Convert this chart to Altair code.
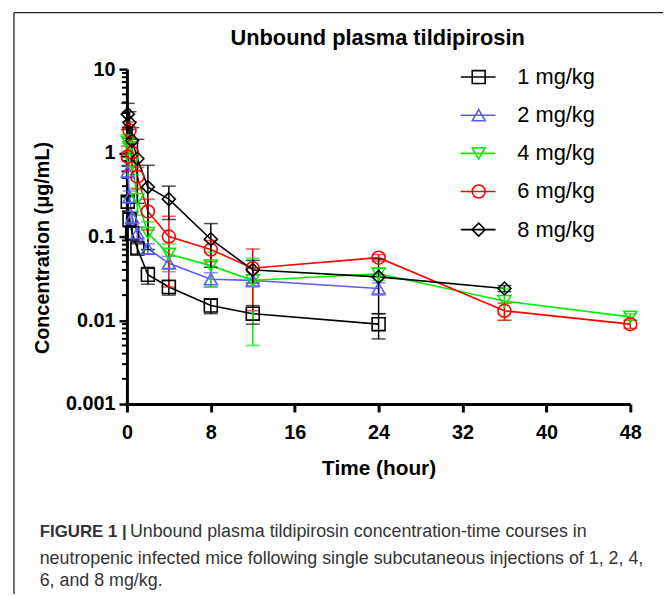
import altair as alt
import pandas as pd

FONT = "Liberation Sans"

series = ["1 mg/kg", "2 mg/kg", "4 mg/kg", "6 mg/kg", "8 mg/kg"]
colors = ["#000000", "#5b5bff", "#00ee00", "#ff0000", "#000000"]
shapes = ["square", "triangle-up", "triangle-down", "circle", "diamond"]

# time (h), mean concentration (ug/mL), SD
t_1 = [0.083, 0.25, 0.5, 1, 2, 4, 8, 12, 24]
c_1 = [0.26, 0.16, 0.11, 0.072, 0.035, 0.025, 0.015, 0.012, 0.009]
sd_1 = [0.04, 0.03, 0.02, 0.01, 0.008, 0.005, 0.003, 0.003, 0.003]

t_2 = [0.083, 0.25, 0.5, 1, 2, 4, 8, 12, 24]
c_2 = [0.60, 0.30, 0.17, 0.11, 0.072, 0.048, 0.031, 0.030, 0.024]
sd_2 = [0.10, 0.05, 0.03, 0.02, 0.01, 0.01, 0.006, 0.005, 0.004]

t_4 = [0.083, 0.25, 0.5, 1, 2, 4, 8, 12, 24, 36, 48]
c_4 = [1.35, 1.15, 0.75, 0.28, 0.11, 0.062, 0.045, 0.030, 0.036, 0.017, 0.011]
sd_4 = [0.3, 0.2, 0.2, 0.1, 0.04, 0.02, 0.02, 0.025, 0.006, 0.007, 0.001]

t_6 = [0.083, 0.25, 0.5, 1, 2, 4, 8, 12, 24, 36, 48]
c_6 = [0.9, 1.85, 1.0, 0.52, 0.20, 0.10, 0.070, 0.042, 0.056, 0.013, 0.009]
sd_6 = [0.3, 0.5, 0.3, 0.15, 0.08, 0.075, 0.02, 0.029, 0.005, 0.003, 0.001]

t_8 = [0.083, 0.25, 0.5, 1, 2, 4, 8, 12, 24, 36]
c_8 = [2.9, 2.3, 1.4, 0.85, 0.39, 0.28, 0.093, 0.040, 0.033, 0.024]
sd_8 = [1.0, 0.8, 0.6, 0.6, 0.32, 0.12, 0.05, 0.012, 0.021, 0.002]

x_ticks = [0, 8, 16, 24, 32, 40, 48]
y_ticks = [0.001, 0.01, 0.1, 1, 10]
y_minor = [m * 10 ** e for e in range(-3, 1) for m in range(2, 10)]

chart_title = "Unbound plasma tildipirosin"
x_title = "Time (hour)"
y_title = "Concentration (μg/mL)"
cap_bold = "FIGURE 1 |"
cap_lines = [
    "Unbound plasma tildipirosin concentration-time courses in",
    "neutropenic infected mice following single subcutaneous injections of 1, 2, 4,",
    "6, and 8 mg/kg.",
]

rows = []
for name, ts, cs, ss in zip(series, [t_1, t_2, t_4, t_6, t_8],
                            [c_1, c_2, c_4, c_6, c_8],
                            [sd_1, sd_2, sd_4, sd_6, sd_8]):
    for t, c, s in zip(ts, cs, ss):
        rows.append({"series": name, "time": t, "conc": c,
                     "low": c - s, "high": c + s})
df = pd.DataFrame(rows)

W, H = 508, 338

y_axis = alt.Axis(values=y_ticks, format="~g", title=y_title,
                  titleX=-75, titleY=180, titleFontSize=20, titleFont=FONT,
                  titleFontWeight="bold", titleColor="black",
                  labelFont=FONT, labelFontSize=20, labelFontWeight="bold",
                  labelColor="black", labelPadding=4, tickSize=8, tickWidth=2.5,
                  tickColor="black", domainColor="black", domainWidth=3,
                  grid=False)
x_axis = alt.Axis(values=x_ticks, title=x_title, titleFontSize=21, titleFont=FONT,
                  titleFontWeight="bold", titleColor="black", titlePadding=15,
                  labelFont=FONT, labelFontSize=20, labelFontWeight="bold",
                  labelColor="black", labelPadding=11, tickSize=8, tickWidth=3,
                  tickColor="black", domainColor="black", domainWidth=3,
                  grid=False, labelFlush=False)

xs = alt.X("time:Q", scale=alt.Scale(domain=[0, 48], nice=False), axis=x_axis)
yscale = alt.Scale(type="log", domain=[0.001, 10], nice=False)
color = alt.Color("series:N", scale=alt.Scale(domain=series, range=colors), legend=None)
shape = alt.Shape("series:N", scale=alt.Scale(domain=series, range=shapes), legend=None)

base = alt.Chart(df)

lines = base.mark_line(strokeWidth=1.6).encode(
    x=xs, y=alt.Y("conc:Q", scale=yscale, axis=y_axis), color=color)
err = base.mark_rule(strokeWidth=1.5).encode(
    x=xs, y=alt.Y("low:Q", scale=yscale, axis=y_axis), y2="high:Q", color=color)
cap_hi = base.mark_tick(orient="horizontal", size=14, thickness=1.5).encode(
    x=xs, y=alt.Y("high:Q", scale=yscale, axis=y_axis), color=color)
cap_lo = base.mark_tick(orient="horizontal", size=14, thickness=1.5).encode(
    x=xs, y=alt.Y("low:Q", scale=yscale, axis=y_axis), color=color)
pts = base.mark_point(size=170, strokeWidth=1.6, filled=False, opacity=1).encode(
    x=xs, y=alt.Y("conc:Q", scale=yscale, axis=y_axis), color=color, shape=shape)
minor = alt.Chart(pd.DataFrame({"v": y_minor})).mark_rule(
    strokeWidth=2, color="black").encode(
    y=alt.Y("v:Q", scale=yscale, axis=y_axis), x=alt.value(-5), x2=alt.value(0))

main = alt.layer(minor, lines, err, cap_hi, cap_lo, pts)

# legend
leg_df = pd.DataFrame({"series": series})
leg_y = alt.Y("series:N", scale=alt.Scale(type="point", domain=series,
                                          range=[8, 162], padding=0), axis=None)
leg_base = alt.Chart(leg_df)
leg_line = leg_base.mark_rule(strokeWidth=1.6).encode(
    y=leg_y, x=alt.value(337), x2=alt.value(372), color=color)
leg_pt = leg_base.mark_point(size=170, strokeWidth=1.6, filled=False, opacity=1).encode(
    y=leg_y, x=alt.value(355), color=color, shape=shape)
leg_txt = leg_base.mark_text(align="left", baseline="middle", fontSize=22,
                             font=FONT, color="black").encode(
    y=leg_y, x=alt.value(394), text="series:N")
legend = alt.layer(leg_line, leg_pt, leg_txt)

# title, frame, caption
one = pd.DataFrame({"k": [0]})
title_mark = alt.Chart(one).mark_text(
    text=chart_title, fontSize=22, fontWeight="bold", font=FONT, color="black",
    align="center", baseline="alphabetic").encode(x=alt.value(253), y=alt.value(-24))
frame_v = alt.Chart(one).mark_rule(color="#222222", strokeWidth=1.3).encode(
    x=alt.value(-114), y=alt.value(-57), y2=alt.value(540))
frame_h = alt.Chart(one).mark_rule(color="#222222", strokeWidth=1.3).encode(
    x=alt.value(-114), x2=alt.value(560), y=alt.value(-57))
cap_b = alt.Chart(one).mark_text(
    text=cap_bold, fontSize=17, fontWeight="bold", font=FONT, color="#333333",
    align="left", baseline="alphabetic").encode(x=alt.value(-88), y=alt.value(472))
cap_df = pd.DataFrame({"line": cap_lines, "xo": [3, -88, -88], "yo": [472, 499, 522]})
cap_t = alt.Chart(cap_df).mark_text(
    fontSize=18, font=FONT, color="#333333", align="left",
    baseline="alphabetic").encode(
    text="line:N", x=alt.X("xo:Q", scale=None), y=alt.Y("yo:Q", scale=None))

chart = alt.layer(main, legend, title_mark, frame_v, frame_h, cap_b, cap_t).resolve_scale(
    y="independent"
).properties(
    width=W, height=H,
    padding={"left": 120, "top": 59, "right": 33, "bottom": 189},
    autosize=alt.AutoSizeParams(type="none"),
).configure_view(strokeWidth=0)

chart.save("out.html", embed_options={"renderer": "svg", "actions": False})
